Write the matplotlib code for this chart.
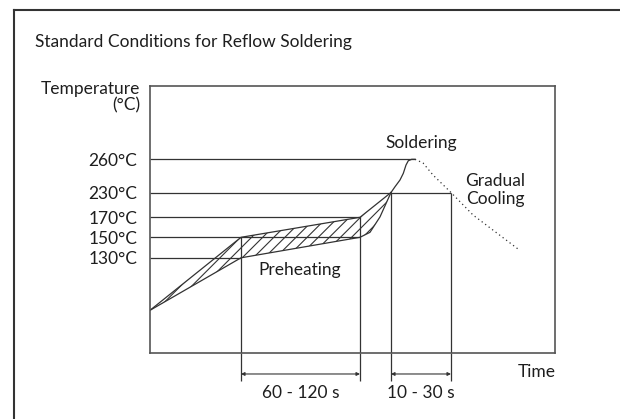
import numpy as np
import matplotlib
matplotlib.use('Agg')
from matplotlib import pyplot as plt
from matplotlib.lines import Line2D
from matplotlib.transforms import blended_transform_factory

plt.rcParams['font.family'] = ['Lato', 'DejaVu Sans']
plt.rcParams['hatch.linewidth'] = 0.8

# schematic time axis (arbitrary units) and temperatures in degC
t_start, t_pre0, t_pre1, t_sol0, t_peak, t_sol1, t_end = 0, 91, 210, 241, 265, 301, 368
t_max = 405

temp_levels = [260, 230, 170, 150, 130]
temp_labels = ['260°C', '230°C', '170°C', '150°C', '130°C']

# the drawing is not to scale: temperature -> height mapping
scale_temps = [0, 25, 130, 150, 170, 230, 260, 326]
scale_pos = [0, 43, 95.5, 116, 136, 160.8, 194, 267.3]

# preheating band: upper and lower edge
upper_t = [t_start, t_pre0, t_pre1, t_sol0]
upper_T = [25, 150, 170, 230]
lower_t = [t_start, t_pre0, t_pre1, 220, 230, t_sol0]
lower_T = [25, 130, 150, 155, 171, 230]

# soldering rise (solid) and gradual cooling (dotted)
rise_t = [241, 245, 250, 253.3, 256, 258.3, 261.7, 265]
rise_T = [230, 235.2, 241.3, 247.3, 254.8, 258.7, 260, 260]
cool_t = [265, 273, 283, 301, 323, 368]
cool_T = [260, 256.7, 245.8, 230, 175.6, 138.6]

# dimension marks below the axis
dims = [(t_pre0, t_pre1, '60 - 120 s'), (t_sol0, t_sol1, '10 - 30 s')]


def fwd(v):
    return np.interp(v, scale_temps, scale_pos)


def inv(v):
    return np.interp(v, scale_pos, scale_temps)


def at_px(y):
    # temperature at a given picture row, for placing labels
    return inv(353.3 - y)


fig = plt.figure(figsize=(6.2, 4.19), dpi=100)
ax = fig.add_axes([150 / 620, 1 - 353.3 / 419, 405 / 620, 267.3 / 419])
ax.set_yscale('function', functions=(fwd, inv))
ax.set_xlim(0, t_max)
ax.set_ylim(0, 326)

lc = '#333333'
tc = '#1e1e1e'
lw = 0.9
fs = 12.5

# guide lines
h_ends = [t_peak, t_sol1, t_pre1, t_pre1, t_pre0]
ax.hlines(temp_levels, 0, h_ends, color=lc, lw=lw)

v_x = [t_pre0, t_pre1, t_sol0, t_sol1]
v_top = [150, 170, 230, 230]
ax.vlines(v_x, 0, v_top, color=lc, lw=lw)
trans = blended_transform_factory(ax.transData, ax.transAxes)
ax.vlines(v_x, -0.104, 0, color=lc, lw=lw, transform=trans, clip_on=False)

# hatched preheat band
poly_t = upper_t + lower_t[::-1]
poly_T = upper_T + lower_T[::-1]
ax.fill(poly_t, poly_T, facecolor='none', edgecolor=lc, hatch='///', lw=0)
ax.plot(upper_t, upper_T, color=lc, lw=lw)
ax.plot(lower_t, lower_T, color=lc, lw=lw)

ax.plot(rise_t, rise_T, color=lc, lw=lw)
ax.plot(cool_t, cool_T, color=lc, lw=0.9, linestyle=(0, (1, 2.5)))

for a, b, lab in dims:
    ax.annotate('', xy=(a, -0.0774), xytext=(b, -0.0774), xycoords=trans,
                arrowprops=dict(arrowstyle='<|-|>', color=lc, lw=0.8,
                                mutation_scale=5, shrinkA=0, shrinkB=0))
    ax.text((a + b) / 2, -0.149, lab, transform=trans, ha='center', va='center',
            fontsize=fs, color=tc)

ax.set_yticks(temp_levels, temp_labels, fontsize=fs, color=tc)
ax.set_xticks([])
ax.tick_params(axis='y', length=0, pad=9)
ax.minorticks_off()
for s in ax.spines.values():
    s.set_color('#555555')
    s.set_linewidth(1.2)

ax.text(421.7 - 150, at_px(143.3), 'Soldering', ha='center', va='center', fontsize=fs, color=tc)
ax.text(495 - 150, at_px(181), 'Gradual', ha='center', va='center', fontsize=fs, color=tc)
ax.text(495 - 150, at_px(199), 'Cooling', ha='center', va='center', fontsize=fs, color=tc)
ax.text(300 - 150, at_px(270), 'Preheating', ha='center', va='center', fontsize=fs, color=tc)
ax.text(536.7 - 150, -0.069, 'Time', transform=trans, ha='center', va='center', fontsize=fs, color=tc)

fig.text(140 / 620, 1 - 89 / 419, 'Temperature', ha='right', va='center', fontsize=fs, color=tc)
fig.text(140 / 620, 1 - 105 / 419, '(°C)', ha='right', va='center', fontsize=fs, color=tc)
fig.text(35 / 620, 1 - 42 / 419, 'Standard Conditions for Reflow Soldering', ha='left', va='center',
         fontsize=fs, color=tc)

# outer frame (only top and left edges are inside the picture)
fig.add_artist(Line2D([14 / 620, 14 / 620], [0, 1 - 10 / 419], color='#333333', lw=1.5))
fig.add_artist(Line2D([14 / 620, 1], [1 - 10 / 419, 1 - 10 / 419], color='#333333', lw=1.5))

fig.savefig('out.png', dpi=100)
